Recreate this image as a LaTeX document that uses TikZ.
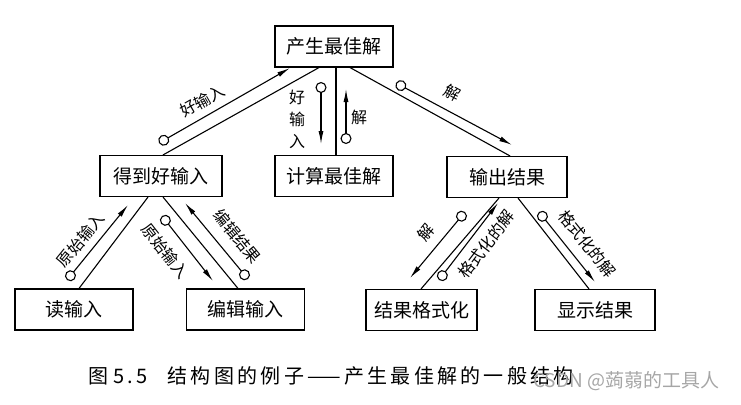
\documentclass[tikz,border=0pt]{standalone}
\usepackage{fontspec}
\setmainfont{Noto Sans CJK SC}
\newfontfamily\capfont[LetterSpace=16.5]{Noto Sans CJK SC}
\usetikzlibrary{arrows.meta,positioning}

\tikzset{
    module/.style={draw, line width=1.1pt, minimum width=118pt, minimum height=41pt,
        inner sep=0pt, font=\fontsize{19}{21}\selectfont},
    link/.style={line width=1.1pt},
    flow/.style={line width=1.1pt, {Circle[open,length=11pt,width=11pt]}-{Latex[length=13pt,width=5pt]}},
    flowlabel/.style={font=\fontsize{16}{18}\selectfont, inner sep=0pt}
}

\begin{document}
\begin{tikzpicture}[x=1pt,y=-1pt]
    \useasboundingbox (0,0) rectangle (741,404);

    % Modules
    \node[module] (best) at (334,46.5) {产生最佳解};
    \node[module, minimum width=122pt] (good) at (161,176) {得到好输入};
    \node[module] (calc) at (334,176) {计算最佳解};
    \node[module, minimum width=120pt] (out) at (507,177) {输出结果};
    \node[module] (read) at (74,309.5) {读输入};
    \node[module] (edit) at (245.5,309.5) {编辑输入};
    \node[module, minimum width=111pt] (fmt) at (421.5,310) {结果格式化};
    \node[module, minimum width=120pt] (show) at (595,310) {显示结果};

    % Calls
    \draw[link] ([xshift=-15pt]best.south) -- ([xshift=2pt]good.north);
    \draw[link] ([xshift=2pt]best.south) -- ([xshift=2pt]calc.north);
    \draw[link] ([xshift=16pt]best.south) -- ([xshift=3pt]out.north);
    \draw[link] ([xshift=-13pt]good.south) -- ([xshift=5pt]read.north);
    \draw[link] ([xshift=2pt]good.south) -- ([xshift=-7.5pt]edit.north);
    \draw[link] ([xshift=-8pt]out.south) -- ([xshift=-0.5pt]fmt.north);
    \draw[link] ([xshift=11pt]out.south) -- ([xshift=-6pt]show.north);

    % Data flow end points
    \coordinate (g1) at (159,143);  \coordinate (g2) at (290,68);
    \coordinate (c1) at (321,82);   \coordinate (c2) at (321,144);
    \coordinate (s1) at (346,144);  \coordinate (s2) at (346,89);
    \coordinate (o1) at (396,83);   \coordinate (o2) at (512,145);
    \coordinate (r1) at (67,280);   \coordinate (r2) at (128,205);
    \coordinate (e1) at (162,216);  \coordinate (e2) at (213,281);
    \coordinate (k1) at (248,279);  \coordinate (k2) at (185,203);
    \coordinate (f1) at (465,212);  \coordinate (f2) at (410,278);
    \coordinate (h1) at (439,280);  \coordinate (h2) at (498,203);
    \coordinate (d1) at (539,212);  \coordinate (d2) at (595,282);

    % Data flows
    \draw[flow] (g1) -- node[flowlabel, sloped, above=7pt, pos=0.39] (lg) {好输入} (g2);
    \draw[flow] (c1) -- (c2);
    \node[flowlabel, align=center, font=\fontsize{16}{22}\selectfont] (lc) at (297,119) {好\\输\\入};
    \draw[flow] (s1) -- (s2);
    \node[flowlabel] (ls) at (359,117) {解};
    \draw[flow] (o1) -- node[flowlabel, sloped, above=10pt, pos=0.41] (lo) {解} (o2);
    \draw[flow] (r1) -- node[flowlabel, sloped, above=7pt, pos=0.41] (lr) {原始输入} (r2);
    \draw[flow] (e1) -- node[flowlabel, sloped, below=11pt, pos=0.36] (le) {原始输入} (e2);
    \draw[flow] (k1) -- node[flowlabel, sloped, above=11pt, pos=0.4] (lk) {编辑结果} (k2);
    \draw[flow] (f1) -- node[flowlabel, sloped, above=9pt, pos=0.48] (lf) {解} (f2);
    \draw[flow] (h1) -- node[flowlabel, sloped, below=8pt, pos=0.59] (lh) {格式化的解} (h2);
    \draw[flow] (d1) -- node[flowlabel, sloped, above=10pt, pos=0.61] (ld) {格式化的解} (d2);

    % Caption
    \node[anchor=west, font=\capfont\fontsize{20}{22}\selectfont, inner sep=0pt] (cap) at (88,376)
        {图\hspace{5pt}5.5\hspace{20pt}结构图的例子——产生最佳解的一般结构};
    \node[anchor=west, font=\fontsize{19}{21}\selectfont, text=black!35, inner sep=0pt] (mark) at (533,381) {CSDN @蒟蒻的工具人};
\end{tikzpicture}
\end{document}
